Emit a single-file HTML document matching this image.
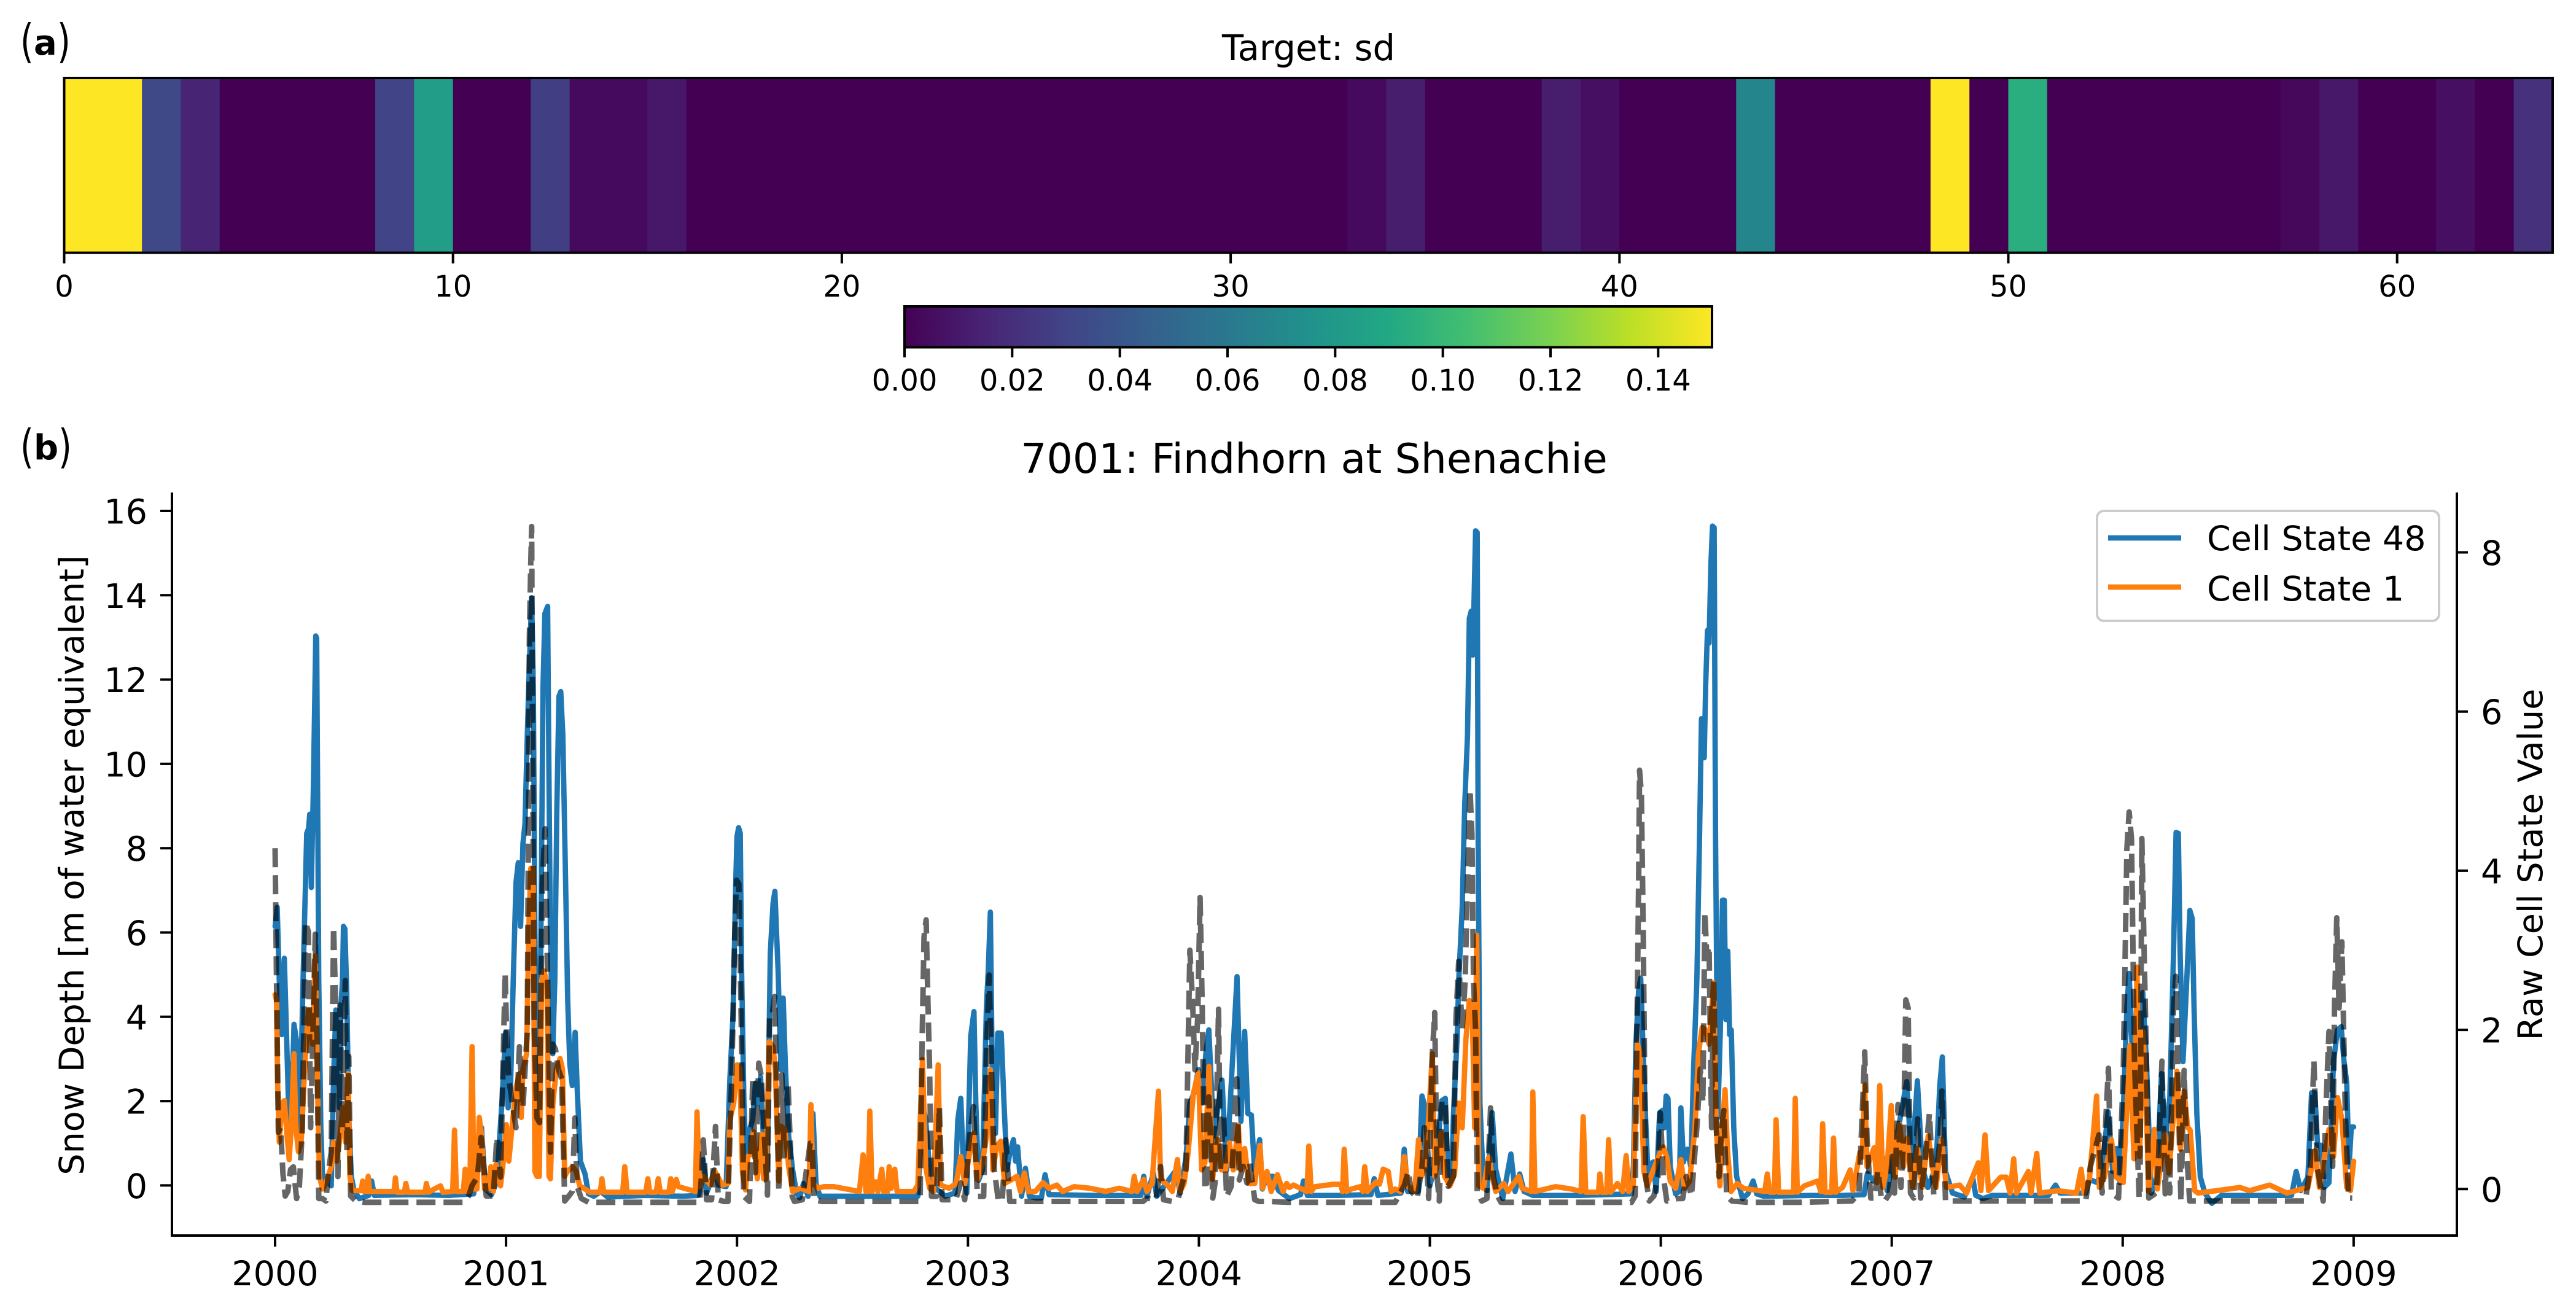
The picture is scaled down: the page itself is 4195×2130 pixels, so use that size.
<!DOCTYPE html>
<html>
<head>
<meta charset="utf-8">
<title>Target: sd / 7001: Findhorn at Shenachie</title>
<style>
html,body{margin:0;padding:0;background:#fff;}
svg{display:block;}
text{font-family:"DejaVu Sans","Liberation Sans",sans-serif;fill:#000;}
</style>
</head>
<body>
<svg id="fig" xmlns="http://www.w3.org/2000/svg" width="4195" height="2130" viewBox="0 0 4195 2130">
<defs>
<linearGradient id="viridisGrad" x1="0" x2="1" y1="0" y2="0">
<stop offset="0" stop-color="#440154"/><stop offset="0.1" stop-color="#482475"/><stop offset="0.2" stop-color="#414487"/><stop offset="0.3" stop-color="#355f8d"/><stop offset="0.4" stop-color="#2a788e"/><stop offset="0.5" stop-color="#21918c"/><stop offset="0.6" stop-color="#22a884"/><stop offset="0.7" stop-color="#44bf70"/><stop offset="0.8" stop-color="#7ad151"/><stop offset="0.9" stop-color="#bddf26"/><stop offset="1" stop-color="#fde725"/>
</linearGradient>
</defs>
<rect x="0" y="0" width="4195" height="2130" fill="#fff"/>
<g>
<text font-size="56" transform="translate(33,93) scale(1,1.34)">(</text>
<text x="55" y="89" font-size="56" font-weight="bold">a</text>
<text font-size="56" transform="translate(93,93) scale(1,1.34)">)</text>
</g>
<g>
<text font-size="56" transform="translate(33,753) scale(1,1.34)">(</text>
<text x="55" y="748" font-size="56" font-weight="bold">b</text>
<text font-size="56" transform="translate(95,753) scale(1,1.34)">)</text>
</g>
<text x="2131" y="98" font-size="57.5" text-anchor="middle">Target: sd</text>
<g id="heat"></g>
<g id="heatTicks"></g>
<rect x="1473" y="499" width="1315" height="66.5" fill="url(#viridisGrad)" stroke="#000" stroke-width="4"/>
<g id="cbTicks"></g>
<text x="2140" y="770" font-size="66.5" text-anchor="middle">7001: Findhorn at Shenachie</text>
<g id="lines"></g>
<line x1="280" y1="802" x2="280" y2="2014" stroke="#000" stroke-width="4"/>
<line x1="4001" y1="802" x2="4001" y2="2014" stroke="#000" stroke-width="4"/>
<line x1="278" y1="2012" x2="4003" y2="2012" stroke="#000" stroke-width="4"/>
<g id="axes"></g>
<text font-size="55.5" text-anchor="middle" transform="translate(136,1409) rotate(-90)">Snow Depth [m of water equivalent]</text>
<text font-size="55.5" text-anchor="middle" transform="translate(4140,1408) rotate(-90)">Raw Cell State Value</text>
<g>
<rect x="3415" y="832" width="557" height="179" rx="11" ry="11" fill="#fff" fill-opacity="0.8" stroke="#ccc" stroke-width="4"/>
<line x1="3433" y1="876" x2="3552" y2="876" stroke="#1f77b4" stroke-width="8.7"/>
<text x="3594" y="896" font-size="55.5">Cell State 48</text>
<line x1="3433" y1="956" x2="3552" y2="956" stroke="#ff7f0e" stroke-width="8.7"/>
<text x="3594" y="978" font-size="55.5">Cell State 1</text>
</g>
</svg>
<script>
const heatValues = [0.15,0.15,0.033,0.015,0,0,0,0,0.03,0.0825,0,0,0.027,0.004,0.004,0.01,0,0,0,0,0,0,0,0,0,0,0,0,0,0,0,0,0,0.004,0.012,0,0,0,0.012,0.006,0,0,0,0.0675,0,0,0,0,0.15,0,0.094,0,0,0,0,0,0,0.003,0.01,0,0,0.006,0,0.021];
const heatTickLabels = [0,10,20,30,40,50,60];
const colorbarTickLabels = ["0.00","0.02","0.04","0.06","0.08","0.10","0.12","0.14"];
const colorbarTickValues = [0,0.02,0.04,0.06,0.08,0.10,0.12,0.14];
const yearTickLabels = [2000,2001,2002,2003,2004,2005,2006,2007,2008,2009];
const snowTickLabels = [0,2,4,6,8,10,12,14,16];
const cellTickLabels = [0,2,4,6,8];
const viridisStops = ["#440154","#482475","#414487","#355f8d","#2a788e","#21918c","#22a884","#44bf70","#7ad151","#bddf26","#fde725"];

const blueSeries = [
[2000,3.3],[2000.009,3.54],[2000.018,2.62],[2000.029,1.94],[2000.04,2.9],[2000.049,2],[2000.06,.84],[2000.067,1.57],[2000.075,1.39],[2000.082,2.07],[2000.095,1.82],[2000.105,.53],[2000.121,2.62],[2000.137,4.47],[2000.145,4.53],[2000.15,4.71],[2000.157,3.79],[2000.166,5.08],[2000.176,6.95],[2000.18,6.92],[2000.189,2.62],[2000.198,.77],[2000.206,.1],[2000.22,.13],[2000.243,.04],[2000.253,1.39],[2000.263,2.25],[2000.272,1.82],[2000.278,1.02],[2000.285,2.3],[2000.292,2.62],[2000.296,3.3],[2000.302,3.27],[2000.31,2.5],[2000.319,.9],[2000.33,.16],[2000.342,-.02],[2000.365,-.12],[2000.405,-.08],[2000.418,.1],[2000.43,-.08],[2000.6,-.07],[2000.75,-.08],[2000.86,-.06],[2000.885,.7],[2000.894,.77],[2000.91,.0],[2000.937,-.07],[2000.96,.1],[2000.975,.77],[2000.982,1.08],[2000.998,1.97],
[2001.009,1.02],[2001.02,1.33],[2001.031,2.62],[2001.043,3.85],[2001.053,4.1],[2001.063,3.3],[2001.073,4.34],[2001.082,4.59],[2001.092,5.7],[2001.101,6.6],[2001.111,7.43],[2001.118,6.31],[2001.125,3.23],[2001.134,1.08],[2001.144,.84],[2001.153,3.85],[2001.16,6.31],[2001.168,7.23],[2001.18,7.32],[2001.186,5.08],[2001.192,3.23],[2001.202,1.7],[2001.211,2.62],[2001.22,4.77],[2001.229,6.19],[2001.237,6.25],[2001.246,5.7],[2001.258,3.85],[2001.267,2.37],[2001.276,1.57],[2001.287,1.3],[2001.299,1.97],[2001.308,1.27],[2001.322,.35],[2001.342,.19],[2001.357,-.06],[2001.38,-.09],[2001.41,-.03],[2001.44,-.1],[2001.6,-.08],[2001.766,-.09],[2001.834,-.08],[2001.854,.37],[2001.868,-.05],[2001.888,.1],[2001.902,.24],[2001.919,.05],[2001.953,.03],[2001.969,1.37],[2001.983,2.2],[2001.995,3.9],
[2002,4.43],[2002.007,4.54],[2002.014,4.47],[2002.02,2.75],[2002.03,1.08],[2002.041,.24],[2002.054,.74],[2002.068,.87],[2002.08,1.33],[2002.092,1.08],[2002.102,1.41],[2002.114,.66],[2002.131,.24],[2002.144,2.96],[2002.156,3.59],[2002.164,3.74],[2002.178,2.75],[2002.19,1.5],[2002.2,2.4],[2002.21,1.5],[2002.224,.66],[2002.241,.24],[2002.258,-.05],[2002.271,-.11],[2002.288,.07],[2002.308,-.09],[2002.322,.24],[2002.329,.95],[2002.342,.07],[2002.359,-.09],[2002.55,-.09],[2002.783,-.09],[2002.803,1.08],[2002.817,.87],[2002.834,.24],[2002.851,.03],[2002.868,-.01],[2002.902,-.09],[2002.944,-.05],[2002.956,.87],[2002.969,1.14],[2002.981,.24],[2002.995,-.05],
[2003.012,1.92],[2003.026,2.23],[2003.034,1.08],[2003.046,.11],[2003.063,.24],[2003.08,2.3],[2003.088,2.75],[2003.097,3.48],[2003.105,1.5],[2003.119,.7],[2003.129,1.96],[2003.144,1.96],[2003.156,1.08],[2003.169,.24],[2003.181,.45],[2003.197,.62],[2003.206,.35],[2003.215,.53],[2003.232,-.09],[2003.249,.26],[2003.266,-.09],[2003.292,-.11],[2003.318,-.11],[2003.334,.18],[2003.351,-.07],[2003.55,-.08],[2003.749,-.08],[2003.761,.16],[2003.775,-.09],[2003.803,.2],[2003.817,-.09],[2003.902,.24],[2003.919,-.05],[2003.944,.39],[2003.961,1.08],[2003.978,1.2],[2003.998,1.5],
[2004.014,1.08],[2004.03,1.7],[2004.043,2.0],[2004.064,.66],[2004.1,1.37],[2004.12,.24],[2004.165,2.67],[2004.182,.85],[2004.198,1.98],[2004.212,.95],[2004.227,.93],[2004.241,.24],[2004.263,.62],[2004.275,.0],[2004.295,.16],[2004.32,.16],[2004.345,-.02],[2004.392,-.12],[2004.44,-.07],[2004.453,.1],[2004.47,-.08],[2004.6,-.08],[2004.745,-.07],[2004.759,.13],[2004.775,-.08],[2004.875,-.05],[2004.889,.5],[2004.904,-.03],[2004.95,-.03],[2004.966,1.17],[2004.98,1.02],
[2005,.04],[2005.026,.35],[2005.052,1.11],[2005.067,1.14],[2005.079,.1],[2005.095,.16],[2005.102,.93],[2005.118,1.9],[2005.125,2.62],[2005.14,3.54],[2005.151,4.83],[2005.163,5.7],[2005.171,7.17],[2005.179,7.26],[2005.186,6.71],[2005.198,8.27],[2005.205,8.25],[2005.209,4.46],[2005.217,1.08],[2005.232,.04],[2005.247,-.02],[2005.27,.96],[2005.285,.25],[2005.316,-.12],[2005.351,.44],[2005.369,-.03],[2005.389,.19],[2005.408,-.03],[2005.446,-.08],[2005.65,-.08],[2005.873,-.06],[2005.882,.31],[2005.892,1.82],[2005.904,2.5],[2005.913,2.65],[2005.924,1.7],[2005.934,.9],[2005.945,.16],[2005.953,.31],[2005.968,.34],[2005.98,-.03],[2005.995,.96],
[2006.008,.99],[2006.015,.77],[2006.023,1.17],[2006.031,1.14],[2006.041,.28],[2006.064,-.06],[2006.08,-.03],[2006.087,1.02],[2006.098,.34],[2006.115,.5],[2006.13,.28],[2006.142,1.51],[2006.156,2.62],[2006.168,4.47],[2006.176,5.91],[2006.182,5.88],[2006.188,5.42],[2006.194,6.31],[2006.202,7.02],[2006.209,6.86],[2006.217,7.85],[2006.224,8.33],[2006.231,8.31],[2006.237,4.47],[2006.247,.9],[2006.258,2],[2006.267,3.63],[2006.275,3.63],[2006.282,2.13],[2006.29,2.99],[2006.298,1.94],[2006.305,2],[2006.316,.77],[2006.328,.16],[2006.354,-.12],[2006.377,-.06],[2006.4,.1],[2006.415,-.06],[2006.446,-.09],[2006.65,-.08],[2006.787,-.08],[2006.88,-.07],[2006.895,.2],[2006.92,.1],[2006.966,.38],[2006.98,-.02],
[2007,.28],[2007.04,.95],[2007.065,1.35],[2007.087,.28],[2007.111,1.36],[2007.132,.28],[2007.156,.02],[2007.192,.28],[2007.208,1.3],[2007.219,1.66],[2007.233,.22],[2007.263,-.05],[2007.314,-.1],[2007.35,.15],[2007.364,-.08],[2007.395,-.12],[2007.435,-.08],[2007.678,-.08],[2007.709,.05],[2007.729,-.05],[2007.84,-.05],[2007.856,.12],[2007.891,.08],[2007.911,.28],[2007.937,.97],[2007.957,.22],[2007.972,.51],[2007.988,.08],
[2008.002,.95],[2008.018,2.28],[2008.028,2.71],[2008.043,1.6],[2008.059,.95],[2008.073,1.6],[2008.087,2.47],[2008.103,1.6],[2008.123,-.05],[2008.148,.15],[2008.168,1.45],[2008.184,.61],[2008.204,1.15],[2008.22,2.94],[2008.231,4.48],[2008.241,4.47],[2008.249,2.94],[2008.261,1.6],[2008.275,2.47],[2008.291,3.5],[2008.301,3.4],[2008.309,2.28],[2008.321,.95],[2008.336,.15],[2008.356,-.05],[2008.386,-.18],[2008.427,-.08],[2008.6,-.08],[2008.731,-.08],[2008.751,.22],[2008.771,-.02],[2008.802,.15],[2008.818,1.21],[2008.832,1.21],[2008.844,.55],[2008.858,.55],[2008.872,.02],[2008.893,.08],[2008.913,1.61],[2008.93,2],[2008.946,2.04],[2008.958,1.61],[2008.97,1.34],[2008.98,.28],[2008.99,.78],[2009,.78]
];

const orangeSeries = [
[2000,2.44],[2000.006,2.37],[2000.011,1.33],[2000.018,.59],[2000.029,1.08],[2000.04,1.11],[2000.049,.77],[2000.061,.37],[2000.07,.77],[2000.082,1.7],[2000.09,.77],[2000.101,.47],[2000.113,.59],[2000.128,1.51],[2000.144,2.25],[2000.153,2],[2000.162,1.82],[2000.174,2.93],[2000.182,1.51],[2000.192,.16],[2000.205,0],[2000.22,.07],[2000.243,.28],[2000.253,.59],[2000.266,.35],[2000.278,.59],[2000.293,1.02],[2000.305,.59],[2000.316,1.45],[2000.324,.16],[2000.334,-.02],[2000.373,-.02],[2000.379,.1],[2000.385,-.03],[2000.397,-.03],[2000.403,.16],[2000.409,-.03],[2000.464,-.03],[2000.515,-.03],[2000.521,.14],[2000.528,-.04],[2000.56,-.04],[2000.566,.07],[2000.574,-.04],[2000.65,-.04],[2000.655,.07],[2000.663,-.04],[2000.716,.04],[2000.727,-.04],[2000.769,-.03],[2000.777,.74],[2000.785,-.03],[2000.815,-.03],[2000.823,.25],[2000.831,-.03],[2000.843,-.03],[2000.853,1.79],[2000.861,.0],[2000.874,.0],[2000.884,.9],[2000.895,.65],[2000.907,0],[2000.922,0],[2000.934,.28],[2000.945,-.03],[2000.956,.31],[2000.976,.04],[2000.986,.28],
[2001.001,.81],[2001.012,.35],[2001.028,.84],[2001.043,1.27],[2001.058,1.45],[2001.066,.9],[2001.073,1.51],[2001.089,1.7],[2001.098,3.23],[2001.107,4.03],[2001.117,4.03],[2001.125,.22],[2001.134,.16],[2001.144,.16],[2001.154,2.62],[2001.165,2.74],[2001.177,2.56],[2001.186,.16],[2001.192,.13],[2001.203,1.08],[2001.218,1.51],[2001.234,1.64],[2001.244,1.51],[2001.254,.16],[2001.265,.22],[2001.288,.28],[2001.304,.22],[2001.319,.04],[2001.342,0],[2001.363,-.04],[2001.408,-.04],[2001.415,.13],[2001.423,-.04],[2001.505,-.04],[2001.514,.28],[2001.524,-.04],[2001.605,-.04],[2001.614,.13],[2001.622,-.04],[2001.65,-.04],[2001.659,.13],[2001.668,-.04],[2001.705,-.04],[2001.713,.13],[2001.72,-.03],[2001.737,.12],[2001.746,.03],[2001.82,-.03],[2001.827,.97],[2001.837,.03],[2001.854,.16],[2001.885,.05],[2001.905,.22],[2001.936,.05],[2001.961,.07],[2001.969,.87],[2001.986,1.08],
[2002,1.56],[2002.012,1.52],[2002.024,.2],[2002.037,-.01],[2002.047,.41],[2002.058,.43],[2002.071,.72],[2002.088,.13],[2002.106,.69],[2002.115,.13],[2002.125,.12],[2002.139,1.85],[2002.156,1.79],[2002.166,1.5],[2002.181,.1],[2002.19,.79],[2002.207,.75],[2002.224,.28],[2002.241,-.03],[2002.275,.01],[2002.312,-.03],[2002.32,1.06],[2002.329,.07],[2002.351,.01],[2002.376,.03],[2002.419,.03],[2002.53,-.03],[2002.546,.43],[2002.558,-.03],[2002.568,-.03],[2002.575,.98],[2002.585,-.03],[2002.6,.09],[2002.61,-.03],[2002.627,.25],[2002.635,-.03],[2002.652,-.03],[2002.659,.28],[2002.668,.01],[2002.683,.25],[2002.693,-.03],[2002.766,-.03],[2002.783,.05],[2002.803,1.63],[2002.817,.28],[2002.834,.01],[2002.851,-.03],[2002.871,1.56],[2002.881,.05],[2002.919,.01],[2002.949,.07],[2002.969,.41],[2002.986,.07],
[2003.007,.45],[2003.024,.7],[2003.041,.12],[2003.063,.33],[2003.08,.66],[2003.097,1.5],[2003.108,.24],[2003.125,.54],[2003.142,.6],[2003.159,.07],[2003.19,.12],[2003.212,.16],[2003.227,-.03],[2003.244,.2],[2003.261,-.03],[2003.292,-.03],[2003.325,.08],[2003.351,.01],[2003.385,.05],[2003.41,-.03],[2003.46,.03],[2003.528,.01],[2003.596,-.03],[2003.655,.01],[2003.71,-.03],[2003.72,.16],[2003.732,-.03],[2003.761,.12],[2003.775,-.03],[2003.797,.07],[2003.825,1.23],[2003.834,.12],[2003.864,.05],[2003.885,-.03],[2003.907,.37],[2003.919,-.03],[2003.936,.07],[2003.953,.45],[2003.976,1.2],[2003.998,1.46],
[2004.012,.24],[2004.026,.33],[2004.044,1.54],[2004.059,.12],[2004.081,.62],[2004.098,.24],[2004.115,.24],[2004.132,.58],[2004.149,.24],[2004.171,.8],[2004.18,.24],[2004.198,.51],[2004.217,.07],[2004.242,.07],[2004.264,.55],[2004.276,.01],[2004.295,.22],[2004.313,-.03],[2004.34,.18],[2004.364,-.03],[2004.38,.07],[2004.392,.02],[2004.41,.05],[2004.468,-.03],[2004.476,.54],[2004.486,-.03],[2004.502,.03],[2004.583,.06],[2004.614,.06],[2004.622,-.03],[2004.629,.5],[2004.64,-.03],[2004.66,0],[2004.698,.03],[2004.71,-.03],[2004.718,.28],[2004.729,-.03],[2004.767,.09],[2004.782,.06],[2004.798,.25],[2004.82,.22],[2004.832,-.03],[2004.85,0],[2004.873,-.03],[2004.889,.41],[2004.904,.04],[2004.935,-.03],[2004.951,.62],[2004.963,.16],[2004.98,.28],[2004.995,.9],
[2005.011,1.7],[2005.021,.16],[2005.034,.35],[2005.049,.71],[2005.064,.16],[2005.087,.04],[2005.107,.19],[2005.125,1.08],[2005.14,.77],[2005.156,1.88],[2005.171,2.37],[2005.183,2.31],[2005.194,.77],[2005.203,3.19],[2005.212,.04],[2005.232,.01],[2005.255,.4],[2005.27,.16],[2005.285,-.03],[2005.32,.07],[2005.339,-.03],[2005.385,.16],[2005.4,.01],[2005.44,-.03],[2005.446,1.22],[2005.455,-.03],[2005.545,.03],[2005.614,0],[2005.655,-.03],[2005.664,.91],[2005.675,-.04],[2005.73,-.04],[2005.736,.19],[2005.745,-.04],[2005.766,-.04],[2005.774,.62],[2005.783,-.04],[2005.812,.07],[2005.835,-.03],[2005.85,.42],[2005.861,-.03],[2005.881,.04],[2005.899,1.82],[2005.91,1.7],[2005.927,.22],[2005.942,.04],[2005.965,.22],[2005.995,.44],
[2006.011,.53],[2006.026,.4],[2006.041,.1],[2006.064,.01],[2006.087,.37],[2006.102,.01],[2006.125,.1],[2006.148,.77],[2006.163,1.7],[2006.179,2.03],[2006.194,2],[2006.209,1.82],[2006.229,2.59],[2006.24,.77],[2006.256,.04],[2006.266,.77],[2006.278,1.25],[2006.289,.47],[2006.304,-.03],[2006.331,.07],[2006.357,.01],[2006.45,-.03],[2006.461,.19],[2006.472,-.04],[2006.492,-.04],[2006.499,.87],[2006.51,-.04],[2006.575,-.04],[2006.582,1.14],[2006.591,-.04],[2006.622,.04],[2006.678,.1],[2006.693,-.03],[2006.701,.82],[2006.711,-.04],[2006.74,-.04],[2006.748,.64],[2006.757,-.04],[2006.787,.02],[2006.82,.24],[2006.832,-.02],[2006.862,.46],[2006.872,.4],[2006.883,1.31],[2006.893,.28],[2006.924,.52],[2006.936,.08],[2006.948,1.3],[2006.962,.02],[2006.98,.28],
[2006.998,1.05],[2007.014,.15],[2007.035,.81],[2007.051,.28],[2007.066,.64],[2007.091,.02],[2007.112,.51],[2007.132,.02],[2007.158,.67],[2007.176,.28],[2007.192,.02],[2007.215,.62],[2007.237,.02],[2007.294,.05],[2007.324,-.05],[2007.35,.15],[2007.375,.33],[2007.386,-.02],[2007.404,.68],[2007.419,-.02],[2007.472,.15],[2007.496,.15],[2007.512,-.05],[2007.528,.38],[2007.54,-.05],[2007.591,.22],[2007.603,-.05],[2007.628,.45],[2007.64,-.05],[2007.719,-.02],[2007.8,-.05],[2007.82,.25],[2007.832,-.05],[2007.856,.12],[2007.887,1.17],[2007.899,.02],[2007.921,.15],[2007.951,.62],[2007.972,.15],
[2008.002,.08],[2008.031,1.8],[2008.049,.38],[2008.062,2.79],[2008.073,.41],[2008.088,1.98],[2008.102,1.08],[2008.112,-.03],[2008.137,.75],[2008.15,0],[2008.182,.69],[2008.2,.2],[2008.235,1.48],[2008.25,.5],[2008.266,1.23],[2008.281,.78],[2008.292,.74],[2008.312,-.02],[2008.326,-.05],[2008.407,-.02],[2008.508,.02],[2008.549,-.02],[2008.636,.05],[2008.711,-.05],[2008.802,.02],[2008.832,.48],[2008.852,.02],[2008.893,.75],[2008.913,.41],[2008.93,1.15],[2008.949,.88],[2008.97,.02],[2008.986,-.02],[2009,.35]
];

const snowSeries = [
[2000,8],[2000.006,4.86],[2000.014,1.26],[2000.024,1.37],[2000.034,.27],[2000.044,-.25],[2000.055,-.14],[2000.067,.38],[2000.079,.44],[2000.093,-.31],[2000.105,-.02],[2000.118,1.37],[2000.131,6.25],[2000.144,6.02],[2000.154,1.37],[2000.162,3.11],[2000.174,5.96],[2000.182,3.11],[2000.189,-.31],[2000.205,-.31],[2000.22,-.37],[2000.231,.33],[2000.243,.79],[2000.253,6.13],[2000.263,4.16],[2000.272,.21],[2000.281,4.28],[2000.292,1.37],[2000.304,4.86],[2000.311,.79],[2000.319,3.06],[2000.327,-.25],[2000.35,-.37],[2000.388,-.4],[2000.6,-.4],[2000.815,-.4],[2000.838,-.25],[2000.853,0],[2000.876,.2],[2000.892,1.14],[2000.904,.44],[2000.914,-.25],[2000.945,-.25],[2000.96,1.14],[2000.976,.2],[2000.996,5.03],
[2001.002,3.69],[2001.012,2.53],[2001.024,2.07],[2001.043,1.37],[2001.058,3.29],[2001.073,1.84],[2001.092,3.69],[2001.101,12.99],[2001.107,14.73],[2001.111,15.63],[2001.116,9.5],[2001.122,3.69],[2001.134,1.6],[2001.145,1.49],[2001.157,7.18],[2001.169,8.46],[2001.18,4.86],[2001.192,.79],[2001.203,3.35],[2001.214,3.23],[2001.226,2.76],[2001.241,2.53],[2001.254,-.37],[2001.272,-.25],[2001.287,-.14],[2001.298,1.6],[2001.308,-.02],[2001.326,-.31],[2001.357,-.4],[2001.6,-.4],[2001.838,-.4],[2001.846,.2],[2001.854,1.08],[2001.868,-.34],[2001.89,-.34],[2001.907,1.4],[2001.919,-.34],[2001.944,-.38],[2001.961,-.38],[2001.978,2.74],[2001.99,5.9],[2001.998,7.24],
[2002.008,7.16],[2002.017,4.32],[2002.029,-.26],[2002.054,-.38],[2002.068,2.51],[2002.08,.3],[2002.094,2.9],[2002.105,2.6],[2002.115,1.5],[2002.132,-.23],[2002.141,3.99],[2002.151,4],[2002.163,4.48],[2002.181,-.14],[2002.194,2.63],[2002.205,.7],[2002.221,2.44],[2002.239,-.26],[2002.249,-.38],[2002.283,-.34],[2002.317,1],[2002.325,1],[2002.334,-.34],[2002.368,-.38],[2002.6,-.38],[2002.793,-.38],[2002.8,2.98],[2002.81,5.9],[2002.819,6.3],[2002.827,4.32],[2002.834,2.74],[2002.842,-.26],[2002.864,-.26],[2002.876,1.87],[2002.888,-.34],[2002.919,-.34],[2002.947,-.34],[2002.969,.06],[2002.986,-.34],
[2003.007,1.16],[2003.024,1.87],[2003.041,-.26],[2003.068,-.26],[2003.08,3.14],[2003.092,4.99],[2003.102,2.74],[2003.114,.37],[2003.131,-.34],[2003.148,-.38],[2003.164,1.08],[2003.181,-.38],[2003.207,-.38],[2003.5,-.38],[2003.758,-.38],[2003.775,-.3],[2003.814,-.34],[2003.834,.45],[2003.847,-.34],[2003.885,-.38],[2003.911,-.3],[2003.944,.37],[2003.961,5.58],[2003.973,4.32],[2003.983,2.74],[2003.995,4.0],
[2004.005,6.83],[2004.014,4.32],[2004.026,-.02],[2004.032,-.1],[2004.043,2.1],[2004.06,-.3],[2004.07,.06],[2004.085,4.18],[2004.093,.37],[2004.107,1.64],[2004.12,-.26],[2004.14,-.02],[2004.164,2.53],[2004.175,.13],[2004.192,.45],[2004.208,.06],[2004.22,.54],[2004.242,-.34],[2004.26,-.38],[2004.3,-.38],[2004.392,-.4],[2004.65,-.4],[2004.85,-.4],[2004.865,-.25],[2004.889,.0],[2004.907,.33],[2004.919,-.14],[2004.945,-.31],[2004.966,.44],[2004.976,1.37],[2004.995,-.31],
[2005.011,3.11],[2005.021,4.1],[2005.031,.21],[2005.041,-.37],[2005.052,2],[2005.067,2],[2005.079,-.02],[2005.102,.21],[2005.113,3.93],[2005.125,5.32],[2005.14,3.69],[2005.153,4.86],[2005.163,7.18],[2005.174,9.39],[2005.182,8.34],[2005.189,4.86],[2005.198,3.69],[2005.205,-.14],[2005.225,-.37],[2005.247,-.31],[2005.263,1.84],[2005.275,.21],[2005.293,-.25],[2005.308,-.4],[2005.6,-.4],[2005.873,-.4],[2005.889,-.25],[2005.896,3.35],[2005.904,7.18],[2005.908,9.85],[2005.916,9.27],[2005.924,6.02],[2005.934,.21],[2005.95,-.37],[2005.97,-.25],[2005.988,.21],[2005.998,1.72],
[2006.011,.21],[2006.026,-.37],[2006.072,-.31],[2006.095,-.31],[2006.11,.21],[2006.133,-.25],[2006.156,1.37],[2006.171,2.76],[2006.182,1.97],[2006.191,6.48],[2006.199,5.44],[2006.209,5.67],[2006.22,1.37],[2006.229,4.86],[2006.24,1.37],[2006.252,.21],[2006.263,1.37],[2006.273,1.78],[2006.285,-.25],[2006.308,-.37],[2006.377,-.4],[2006.6,-.4],[2006.828,-.37],[2006.858,-.18],[2006.872,1.7],[2006.883,3.17],[2006.893,1.08],[2006.909,-.3],[2006.925,-.3],[2006.94,.35],[2006.955,-.3],[2006.97,-.37],[2006.99,-.2],
[2007.002,.69],[2007.012,-.18],[2007.027,1.92],[2007.04,-.05],[2007.051,1.08],[2007.061,4.4],[2007.071,4.21],[2007.081,-.18],[2007.095,-.3],[2007.112,1.58],[2007.125,-.3],[2007.142,.45],[2007.163,1.7],[2007.182,-.25],[2007.209,1.08],[2007.217,2.24],[2007.233,-.37],[2007.273,-.37],[2007.55,-.37],[2007.84,-.37],[2007.86,.45],[2007.897,1.2],[2007.911,-.18],[2007.938,2.78],[2007.951,-.18],[2007.982,-.3],
[2008.002,2.58],[2008.018,7.98],[2008.028,8.86],[2008.038,8.23],[2008.051,2.96],[2008.071,-.28],[2008.075,-.3],[2008.083,8.23],[2008.093,5.47],[2008.103,2.96],[2008.113,-.3],[2008.144,-.18],[2008.154,.45],[2008.17,2.95],[2008.184,-.2],[2008.19,.74],[2008.204,-.18],[2008.22,4.21],[2008.23,4.96],[2008.245,1.2],[2008.252,-.38],[2008.266,2.73],[2008.278,.7],[2008.29,-.37],[2008.306,-.37],[2008.55,-.37],[2008.791,-.37],[2008.812,.45],[2008.828,2.96],[2008.842,.45],[2008.868,-.37],[2008.879,1.7],[2008.893,3.65],[2008.909,.45],[2008.917,4.21],[2008.927,6.35],[2008.937,4.21],[2008.949,5.78],[2008.964,1.7],[2008.978,-.3],[2008.994,-.3]
];

const svgNS = 'http://www.w3.org/2000/svg';

function heatX(v){ return 104.5 + v * 63.32; }
function cbX(v){ return 1473 + (v / 0.15) * 1315; }
function timeX(t){ return 448 + (t - 2000) * 376.1; }
function snowY(v){ return 1930.4 - v * 68.65; }
function cellY(v){ return 1936.3 - v * 129.6; }

function hexToRgb(h){ return [parseInt(h.slice(1,3),16),parseInt(h.slice(3,5),16),parseInt(h.slice(5,7),16)]; }
function viridis(f){
  const c = Math.max(0, Math.min(1, f)) * (viridisStops.length - 1);
  const i = Math.min(Math.floor(c), viridisStops.length - 2);
  const a = hexToRgb(viridisStops[i]), b = hexToRgb(viridisStops[i + 1]);
  const m = c - i;
  return 'rgb(' + a.map(function(q, k){ return Math.round(q + (b[k] - q) * m); }).join(',') + ')';
}

function shape(parent, tag, attrs){
  const el = document.createElementNS(svgNS, tag);
  for (const k in attrs) el.setAttribute(k, attrs[k]);
  parent.appendChild(el);
  return el;
}

const heatGroup = document.getElementById('heat');
heatValues.forEach(function(v, i){
  const cell = shape(heatGroup, 'rect', {x: heatX(i), y: 127, width: heatX(i + 1) - heatX(i) + 0.6, height: 284.6, fill: viridis(v / 0.15)});
  
  
});
const heatFrame = shape(heatGroup, 'rect', {x: 104.5, y: 127, width: heatX(heatValues.length) - 104.5, height: 284.6, fill: 'none', stroke: '#000', 'stroke-width': 4});



const heatTickGroup = document.getElementById('heatTicks');
heatTickLabels.forEach(function(v){
  const tick = shape(heatTickGroup, 'line', {x1: heatX(v), x2: heatX(v), y1: 411, y2: 429, stroke: '#000', 'stroke-width': 4});
  
  
  const label = shape(heatTickGroup, 'text', {x: heatX(v), y: 483, 'font-size': 48, 'text-anchor': 'middle'});
  label.textContent = v;
  
  
});

const cbTickGroup = document.getElementById('cbTicks');
colorbarTickValues.forEach(function(v, i){
  const tick = shape(cbTickGroup, 'line', {x1: cbX(v), x2: cbX(v), y1: 565, y2: 582, stroke: '#000', 'stroke-width': 4});
  
  
  const label = shape(cbTickGroup, 'text', {x: cbX(v), y: 636, 'font-size': 48, 'text-anchor': 'middle'});
  label.textContent = colorbarTickLabels[i];
  
  
});

function pathFrom(series, yFn){
  return series.map(function(p, i){
    return (i ? 'L' : 'M') + timeX(p[0]).toFixed(1) + ' ' + yFn(p[1]).toFixed(1);
  }).join('');
}
const lineGroup = document.getElementById('lines');
const blueLine = shape(lineGroup, 'path', {d: pathFrom(blueSeries, cellY), fill: 'none', stroke: '#1f77b4', 'stroke-width': 8.7, 'stroke-linejoin': 'round', 'stroke-linecap': 'round'});


const orangeLine = shape(lineGroup, 'path', {d: pathFrom(orangeSeries, cellY), fill: 'none', stroke: '#ff7f0e', 'stroke-width': 8.7, 'stroke-linejoin': 'round', 'stroke-linecap': 'round'});


const snowLine = shape(lineGroup, 'path', {d: pathFrom(snowSeries, snowY), fill: 'none', stroke: '#000', 'stroke-opacity': 0.6, 'stroke-width': 9, 'stroke-linejoin': 'round', 'stroke-dasharray': '31 13'});



const axesGroup = document.getElementById('axes');
yearTickLabels.forEach(function(y){
  const tick = shape(axesGroup, 'line', {x1: timeX(y), x2: timeX(y), y1: 2012, y2: 2030, stroke: '#000', 'stroke-width': 4});
  
  
  const label = shape(axesGroup, 'text', {x: timeX(y), y: 2093, 'font-size': 55.5, 'text-anchor': 'middle'});
  label.textContent = y;
  
  
});
snowTickLabels.forEach(function(v){
  const tick = shape(axesGroup, 'line', {x1: 261, x2: 280, y1: snowY(v), y2: snowY(v), stroke: '#000', 'stroke-width': 4});
  
  
  const label = shape(axesGroup, 'text', {x: 240, y: snowY(v) + 20.5, 'font-size': 55.5, 'text-anchor': 'end'});
  label.textContent = v;
  
  
});
cellTickLabels.forEach(function(v){
  const tick = shape(axesGroup, 'line', {x1: 4001, x2: 4019, y1: cellY(v), y2: cellY(v), stroke: '#000', 'stroke-width': 4});
  
  
  const label = shape(axesGroup, 'text', {x: 4040, y: cellY(v) + 20.5, 'font-size': 55.5});
  label.textContent = v;
  
  
});
</script>
</body>
</html>
